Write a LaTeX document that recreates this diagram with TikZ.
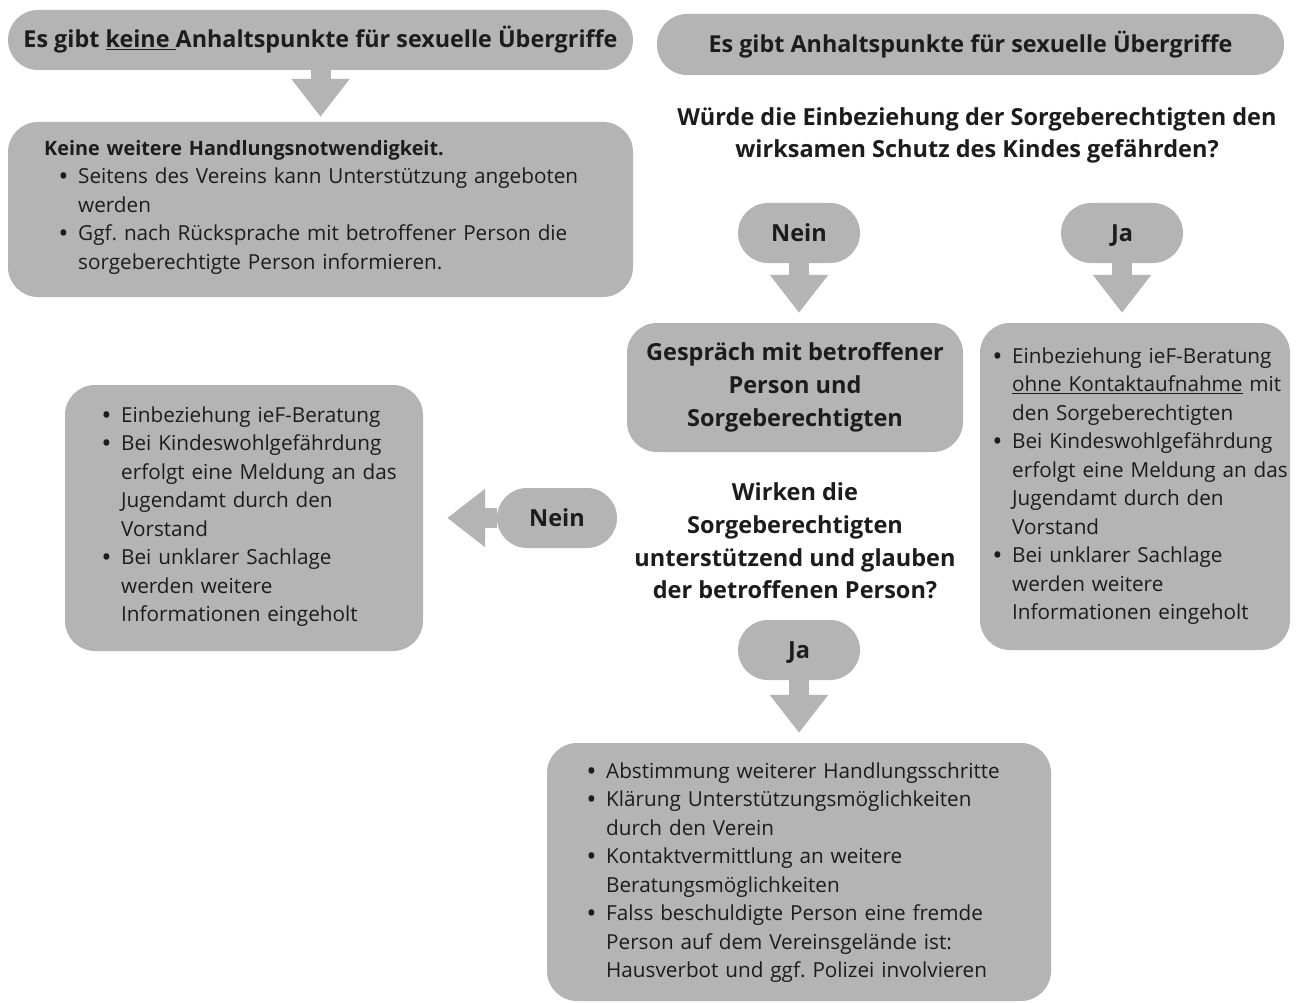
\documentclass[tikz,border=0pt]{standalone}
\usepackage{fontspec}
\setmainfont{Open Sans}
\usetikzlibrary{arrows.meta}
\definecolor{boxgray}{HTML}{B4B4B4}
\definecolor{ink}{HTML}{1C1C1C}
\setlength\parindent{0pt}
\frenchspacing
\newcommand\bodyfont{\fontsize{20.7}{28.5}\selectfont}
\newcommand\boldhead{\fontsize{19.8}{28.5}\selectfont\bfseries}
\newcommand\headfont{\fontsize{23.5}{32.7}\selectfont\bfseries}
\newcommand\titlefont{\fontsize{23.35}{30}\selectfont\bfseries}
\newcommand\bul{\makebox[16pt][l]{\hspace*{-2.5pt}\textbf{•}}}
\newcommand\ind{\hspace*{16pt}}
\begin{document}
\begin{tikzpicture}[x=1pt,y=-1pt,
  every node/.style={text=ink},
  shape/.style={fill=boxgray, draw=none, rounded corners=#1, inner sep=0pt},
  shape/.default=30pt,
  pilltxt/.style={font=\headfont, text height=16.8pt, text depth=0pt},
  bodytxt/.style={anchor=north west, inner sep=0pt, text width=#1, align=left, font=\bodyfont},
  bodytxt/.default=600pt,
  flow/.style={draw=boxgray, line width=20pt, -{Triangle[width=56pt,length=38pt]}}]
\useasboundingbox (0,0) rectangle (1301,1003);
\fill[white] (0,0) rectangle (1301,1003);

% top left
\node[shape, minimum width=625pt, minimum height=60pt, font=\titlefont] (p1) at (320.5,40)
  {Es gibt \underline{keine\ }Anhaltspunkte für sexuelle Übergriffe};
\node[shape, minimum width=625pt, minimum height=175pt] (b1) at (320.5,209.5) {};
\node[bodytxt] (t1) at (44,135) {\strut{\boldhead Keine weitere Handlungsnotwendigkeit.}\\
\hspace*{18pt}\bul Seitens des Vereins kann Unterstützung angeboten\\
\hspace*{18pt}\ind werden\\
\hspace*{18pt}\bul Ggf. nach Rücksprache mit betroffener Person die\\
\hspace*{18pt}\ind sorgeberechtigte Person informieren.};

% top right
\node[shape, minimum width=627pt, minimum height=61pt, font=\titlefont] (p2) at (970.5,44.5)
  {Es gibt Anhaltspunkte für sexuelle Übergriffe};
\node[font=\headfont, align=center] (q1) at (977,135.5)
  {Würde die Einbeziehung der Sorgeberechtigten den\\wirksamen Schutz des Kindes gefährden?};

\node[shape, minimum width=122pt, minimum height=60pt, pilltxt] (nein1) at (799,233) {Nein};
\node[shape, minimum width=122pt, minimum height=60pt, pilltxt] (ja1) at (1122,233) {Ja};

\node[shape, minimum width=336pt, minimum height=129pt, font=\headfont, align=center] (g) at (795,387.5)
  {Gespräch mit betroffener\\Person und\\Sorgeberechtigten};

\node[shape, minimum width=310pt, minimum height=327pt] (rb) at (1135,486.5) {};
\node[bodytxt] (t2) at (996,343) {\strut\bul Einbeziehung ieF-Beratung\\
\ind\underline{ohne Kontaktaufnahme} mit\\
\ind den Sorgeberechtigten\\
\bul Bei Kindeswohlgefährdung\\
\ind erfolgt eine Meldung an das\\
\ind Jugendamt durch den\\
\ind Vorstand\\
\bul Bei unklarer Sachlage\\
\ind werden weitere\\
\ind Informationen eingeholt};

\node[font=\headfont, align=center] (q2) at (795,541)
  {Wirken die\\Sorgeberechtigten\\unterstützend und glauben\\der betroffenen Person?};

\node[shape, minimum width=120pt, minimum height=60pt, pilltxt] (nein2) at (557,518) {Nein};

\node[shape, minimum width=358pt, minimum height=266pt] (lb) at (244,518) {};
\node[bodytxt] (t3) at (105,402) {\strut\bul Einbeziehung ieF-Beratung\\
\bul Bei Kindeswohlgefährdung\\
\ind erfolgt eine Meldung an das\\
\ind Jugendamt durch den\\
\ind Vorstand\\
\bul Bei unklarer Sachlage\\
\ind werden weitere\\
\ind Informationen eingeholt};

\node[shape, minimum width=122pt, minimum height=60pt, pilltxt] (ja2) at (799,650) {Ja};

\node[shape, minimum width=504pt, minimum height=258pt] (bb) at (799,872) {};
\node[bodytxt] (t4) at (590,758) {\strut\bul Abstimmung weiterer Handlungsschritte\\
\bul Klärung Unterstützungsmöglichkeiten\\
\ind durch den Verein\\
\bul Kontaktvermittlung an weitere\\
\ind Beratungsmöglichkeiten\\
\bul Falss beschuldigte Person eine fremde\\
\ind Person auf dem Vereinsgelände ist:\\
\ind Hausverbot und ggf. Polizei involvieren};

% connectors
\draw[flow, shorten >=5pt] (p1.south) -- (b1.north);
\draw[flow, shorten >=10pt] (nein1.south) -- (nein1.south |- g.north);
\draw[flow, shorten >=10pt] (ja1.south) -- (ja1.south |- rb.north);
\draw[flow, shorten >=10pt] (ja2.south) -- (bb.north);
\draw[flow, shorten >=24pt] (nein2.west) -- (nein2.west -| lb.east);
\end{tikzpicture}
\end{document}
